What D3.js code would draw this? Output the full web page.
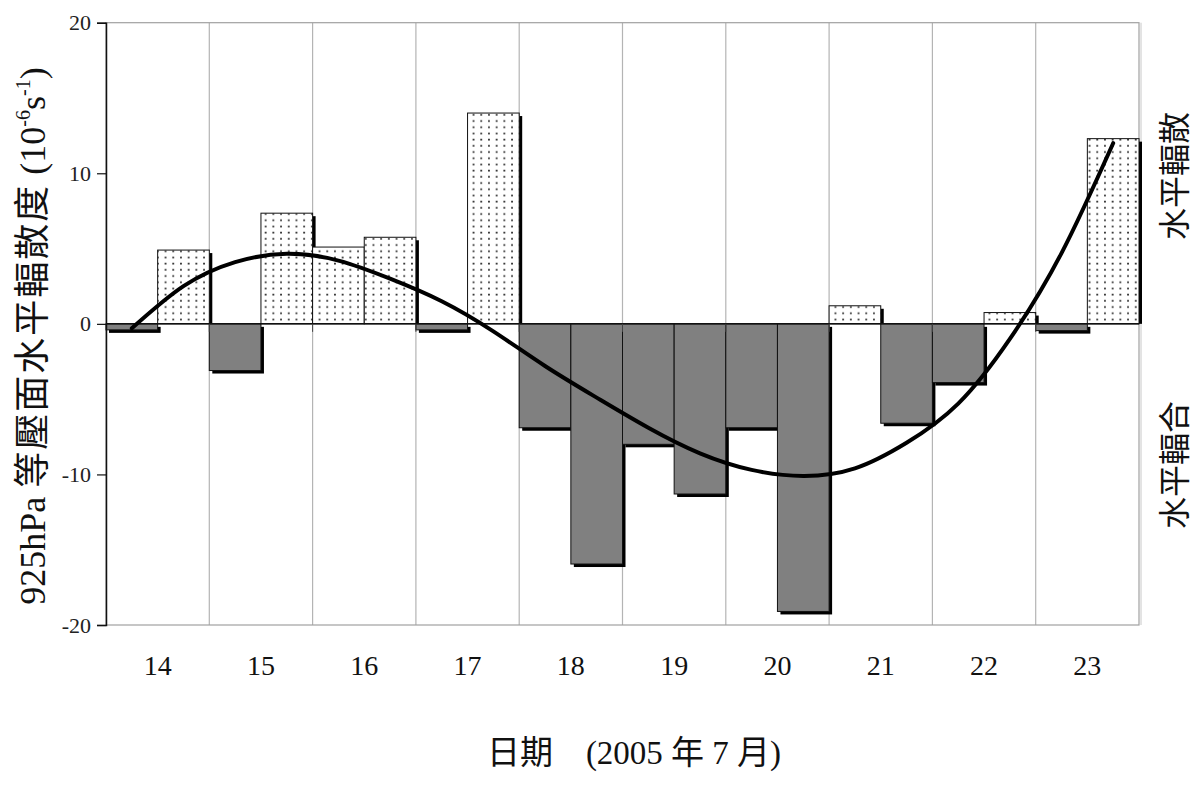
<!DOCTYPE html>
<html>
<head>
<meta charset="utf-8">
<script src="https://cdn.jsdelivr.net/npm/d3@7"></script>
<style>
  html, body { margin: 0; padding: 0; background: #fff; }
  svg { display: block; }
</style>
</head>
<body>
<svg id="chart" width="1194" height="785"></svg>
<script>
// Days of July 2005, each split into two half-day observations
const days = ["14", "15", "16", "17", "18", "19", "20", "21", "22", "23"];
const slots = ["14a","14b","15a","15b","16a","16b","17a","17b","18a","18b",
               "19a","19b","20a","20b","21a","21b","22a","22b","23a","23b"];
// 925hPa horizontal divergence (10^-6 s^-1)
const divergence = [-0.4, 4.9, -3.1, 7.35, 5.1, 5.75, -0.4, 14.0, -6.9, -15.95,
                    -8.0, -11.3, -6.9, -19.1, 1.2, -6.6, -3.9, 0.75, -0.45, 12.3];
// smoothed trend through the series, one value per half-day
const trend = [-0.3, 2.5, 4.1, 4.65, 4.2, 3.0, 1.5, -0.5, -2.8, -4.9,
               -6.9, -8.6, -9.7, -10.1, -9.6, -7.9, -5.3, -1.0, 4.7, 12.0];
const yTicks = [-20, -10, 0, 10, 20];

const svg = d3.select("#chart");
const L = 106, R = 1139, T = 22.7, B = 625;

const x = d3.scaleBand().domain(slots).range([L, R]).padding(0);
const xDay = d3.scaleBand().domain(days).range([L, R]).padding(0);
const y = d3.scaleLinear().domain([-20, 20]).range([B, T]);

const serif = "'Liberation Serif', 'Times New Roman', serif";
const cjk = "'Liberation Serif', 'Noto Sans CJK TC', serif";

// dotted fill for positive (divergent) bars
const defs = svg.append("defs");
const pat = defs.append("pattern")
  .attr("id", "dots").attr("patternUnits", "userSpaceOnUse")
  .attr("width", 7.7).attr("height", 6.2);
pat.append("rect").attr("width", 7.7).attr("height", 6.2).attr("fill", "#fff");
pat.append("rect").attr("x", 3).attr("y", 2.4).attr("width", 1.7).attr("height", 1.7).attr("fill", "#222");

// vertical grid lines at day boundaries
svg.append("g").selectAll("line").data(days.slice(1)).join("line")
  .attr("x1", d => xDay(d)).attr("x2", d => xDay(d))
  .attr("y1", T).attr("y2", B)
  .attr("stroke", "#b4b4b4").attr("stroke-width", 1.2);

// plot frame
svg.append("rect").attr("x", L).attr("y", T).attr("width", R - L).attr("height", B - T)
  .attr("fill", "none").attr("stroke", "#a0a0a0").attr("stroke-width", 1.2);
svg.append("line").attr("x1", R + 2).attr("x2", R + 2).attr("y1", T).attr("y2", B)
  .attr("stroke", "#c8c8c8").attr("stroke-width", 1);

const y0 = y(0);
const off = 3;

// bar shadows
svg.append("g").selectAll("rect").data(divergence).join("rect")
  .attr("x", (d, i) => x(slots[i]) + off)
  .attr("y", d => d >= 0 ? y(d) + off : y0 + off)
  .attr("width", x.bandwidth())
  .attr("height", d => d >= 0 ? Math.max(0, y0 - y(d) - off) : y(d) - y0)
  .attr("fill", "#000");

// bars
svg.append("g").selectAll("rect").data(divergence).join("rect")
  .attr("x", (d, i) => x(slots[i]))
  .attr("y", d => Math.min(y(d), y0))
  .attr("width", x.bandwidth())
  .attr("height", d => Math.abs(y(d) - y0))
  .attr("fill", d => d >= 0 ? "url(#dots)" : "#808080")
  .attr("stroke", "#111").attr("stroke-width", 1);

// zero line with day ticks
svg.append("line").attr("x1", L).attr("x2", R).attr("y1", y0).attr("y2", y0)
  .attr("stroke", "#111").attr("stroke-width", 1.5);
svg.append("g").selectAll("line").data(days.slice(1)).join("line")
  .attr("x1", d => xDay(d)).attr("x2", d => xDay(d))
  .attr("y1", y0).attr("y2", y0 + 8)
  .attr("stroke", "#444").attr("stroke-width", 1);

// trend curve
const line = d3.line()
  .x((d, i) => x(slots[i]) + x.bandwidth() / 2)
  .y(d => y(d))
  .curve(d3.curveNatural);
svg.append("path").datum(trend).attr("d", line)
  .attr("fill", "none").attr("stroke", "#000").attr("stroke-width", 4)
  .attr("stroke-linecap", "round");

// left axis
const yAxis = d3.axisLeft(y).tickValues(yTicks).tickSize(9).tickPadding(6).tickFormat(d3.format("d"));
const gy = svg.append("g").attr("transform", `translate(${L},0)`).call(yAxis);
gy.select(".domain").attr("stroke", "#111").attr("stroke-width", 1.5);
gy.selectAll(".tick line").attr("stroke", "#111").attr("stroke-width", 1.2);
gy.selectAll(".tick text").attr("font-family", serif).attr("font-size", 22).attr("fill", "#222")
  .text(d => d < 0 ? "-" + Math.abs(d) : d);

// day labels
const xAxis = d3.axisBottom(xDay).tickSize(0).tickPadding(0);
const gx = svg.append("g").attr("transform", `translate(0,${B + 30})`).call(xAxis);
gx.select(".domain").remove();
gx.selectAll(".tick text").attr("font-family", serif).attr("font-size", 28).attr("fill", "#111")
  .attr("dy", "0.7em");

// axis titles
svg.append("text").attr("x", 634).attr("y", 764).attr("text-anchor", "middle")
  .attr("font-family", cjk).attr("font-size", 33).attr("fill", "#111")
  .text("日期\u2003(2005 年 7 月)");

const yt = svg.append("text")
  .attr("transform", "translate(45,336) rotate(-90)")
  .attr("text-anchor", "middle")
  .attr("font-family", cjk).attr("font-size", 36).attr("fill", "#111");
yt.append("tspan").text("925hPa ");
yt.append("tspan").attr("letter-spacing", 2).text("等壓面水平輻散度");
yt.append("tspan").text(" (10");
yt.append("tspan").attr("font-size", 20).attr("dy", -15).text("-6");
yt.append("tspan").attr("dy", 15).text("s");
yt.append("tspan").attr("font-size", 20).attr("dy", -15).text("-1");
yt.append("tspan").attr("dy", 15).text(")");

svg.append("text").attr("transform", "translate(1186,176) rotate(-90)")
  .attr("text-anchor", "middle").attr("font-family", cjk).attr("font-size", 32).attr("fill", "#111")
  .text("水平輻散");
svg.append("text").attr("transform", "translate(1186,465) rotate(-90)")
  .attr("text-anchor", "middle").attr("font-family", cjk).attr("font-size", 32).attr("fill", "#111")
  .text("水平輻合");
</script>
</body>
</html>
